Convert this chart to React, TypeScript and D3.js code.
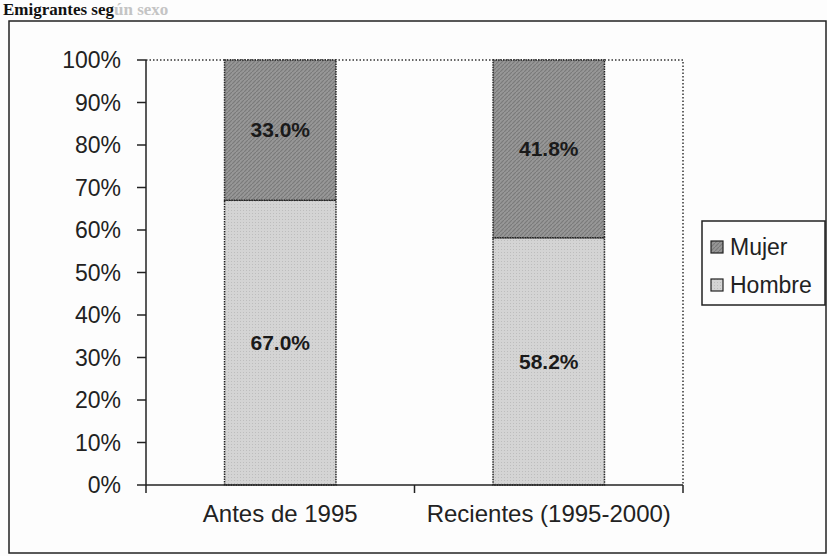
import { useRef, useEffect } from "react";
import * as d3 from "d3";

const categories = ["Antes de 1995", "Recientes (1995-2000)"];
const hombre = [67.0, 58.2];
const mujer = [33.0, 41.8];
const seriesNames = ["Mujer", "Hombre"];
const yTicks = [0, 10, 20, 30, 40, 50, 60, 70, 80, 90, 100];

function App() {
  const svgRef = useRef<SVGSVGElement>(null);

  useEffect(() => {
    document.body.style.margin = "0";
    const svg = d3.select(svgRef.current);
    svg.selectAll("*").remove();

    const width = 827;
    const height = 556;
    const font = "Liberation Sans, Arial, sans-serif";

    svg.attr("width", width).attr("height", height).style("background", "#fdfdfd");

    // patterns for the scanned grey fills
    const defs = svg.append("defs");
    const pm = defs
      .append("pattern")
      .attr("id", "pat-mujer")
      .attr("width", 4)
      .attr("height", 4)
      .attr("patternUnits", "userSpaceOnUse");
    pm.append("rect").attr("width", 4).attr("height", 4).attr("fill", "#979797");
    pm.append("path").attr("d", "M0,4 L4,0").attr("stroke", "#7a7a7a").attr("stroke-width", 1.2);
    const ph = defs
      .append("pattern")
      .attr("id", "pat-hombre")
      .attr("width", 3)
      .attr("height", 3)
      .attr("patternUnits", "userSpaceOnUse");
    ph.append("rect").attr("width", 3).attr("height", 3).attr("fill", "#d4d4d4");
    ph.append("rect").attr("width", 1).attr("height", 1).attr("fill", "#bdbdbd");

    // title at the top of the scan
    const title = svg
      .append("text")
      .attr("x", 3)
      .attr("y", 15)
      .style("font", "bold 17px Liberation Serif, serif");
    title.append("tspan").attr("fill", "#111").text("Emigrantes seg");
    title.append("tspan").attr("fill", "#c4c4c4").text("ún sexo");

    // outer frame
    svg
      .append("rect")
      .attr("x", 9)
      .attr("y", 21)
      .attr("width", 817)
      .attr("height", 532)
      .attr("fill", "none")
      .attr("stroke", "#222")
      .attr("stroke-width", 1.5);

    const x = d3.scaleBand().domain(categories).range([146, 683]).paddingInner(0).paddingOuter(0);
    const y = d3.scaleLinear().domain([0, 100]).range([485, 60]);

    const barW = x.bandwidth() * 0.415;

    // plot area dotted border (top and right)
    svg
      .append("path")
      .attr("d", `M${x.range()[0]},${y(100)}H${x.range()[1]}V${y(0)}`)
      .attr("fill", "none")
      .attr("stroke", "#333")
      .attr("stroke-width", 1.5)
      .attr("stroke-dasharray", "1.5,2");

    const stacks = [
      { name: "Hombre", values: hombre, base: categories.map(() => 0), fill: "url(#pat-hombre)" },
      { name: "Mujer", values: mujer, base: hombre, fill: "url(#pat-mujer)" },
    ];

    stacks.forEach((s) => {
      const g = svg.append("g");
      g.selectAll("rect")
        .data(categories)
        .join("rect")
        .attr("x", (d) => x(d)! + (x.bandwidth() - barW) / 2)
        .attr("width", barW)
        .attr("y", (d, i) => y(s.base[i] + s.values[i]))
        .attr("height", (d, i) => y(s.base[i]) - y(s.base[i] + s.values[i]))
        .attr("fill", s.fill)
        .attr("stroke", "#222")
        .attr("stroke-width", 1.5)
        .attr("stroke-dasharray", "1.5,1");
      g.selectAll("text")
        .data(categories)
        .join("text")
        .attr("x", (d) => x(d)! + x.bandwidth() / 2)
        .attr("y", (d, i) => y(s.base[i] + s.values[i] / 2))
        .attr("dy", "0.35em")
        .attr("text-anchor", "middle")
        .attr("fill", "#1a1a1a")
        .style("font", `bold 21px ${font}`)
        .text((d, i) => `${s.values[i].toFixed(1)}%`);
    });

    // y axis
    const yAxis = svg.append("g").attr("transform", `translate(${x.range()[0]},0)`);
    yAxis
      .append("line")
      .attr("y1", y(0))
      .attr("y2", y(100))
      .attr("stroke", "#222")
      .attr("stroke-width", 1.5);
    yAxis
      .selectAll("line.tick")
      .data(yTicks)
      .join("line")
      .attr("class", "tick")
      .attr("x1", -9)
      .attr("x2", 0)
      .attr("y1", (d) => y(d))
      .attr("y2", (d) => y(d))
      .attr("stroke", "#222")
      .attr("stroke-width", 1.5);
    yAxis
      .selectAll("text")
      .data(yTicks)
      .join("text")
      .attr("x", -25)
      .attr("y", (d) => y(d))
      .attr("dy", "0.36em")
      .attr("text-anchor", "end")
      .attr("fill", "#222")
      .style("font", `23px ${font}`)
      .text((d) => `${d}%`);

    // x axis
    const xAxis = svg.append("g").attr("transform", `translate(0,${y(0)})`);
    xAxis
      .append("line")
      .attr("x1", x.range()[0])
      .attr("x2", x.range()[1])
      .attr("stroke", "#222")
      .attr("stroke-width", 1.5);
    xAxis
      .selectAll("line.tick")
      .data([x.range()[0], x(categories[1])!, x.range()[1]])
      .join("line")
      .attr("class", "tick")
      .attr("x1", (d) => d)
      .attr("x2", (d) => d)
      .attr("y1", 0)
      .attr("y2", 8)
      .attr("stroke", "#222")
      .attr("stroke-width", 1.5);
    xAxis
      .selectAll("text")
      .data(categories)
      .join("text")
      .attr("x", (d) => x(d)! + x.bandwidth() / 2)
      .attr("y", 37)
      .attr("text-anchor", "middle")
      .attr("fill", "#222")
      .style("font", `24px ${font}`)
      .text((d) => d);

    // legend
    const lg = svg.append("g").attr("transform", "translate(702,221)");
    lg.append("rect")
      .attr("width", 123)
      .attr("height", 84)
      .attr("fill", "none")
      .attr("stroke", "#222")
      .attr("stroke-width", 1.5);
    const items = lg
      .selectAll("g")
      .data(seriesNames)
      .join("g")
      .attr("transform", (d, i) => `translate(9,${26 + i * 38})`);
    items
      .append("rect")
      .attr("x", 0)
      .attr("y", -6)
      .attr("width", 12)
      .attr("height", 12)
      .attr("fill", (d) => (d === "Mujer" ? "url(#pat-mujer)" : "url(#pat-hombre)"))
      .attr("stroke", "#222")
      .attr("stroke-width", 1.2);
    items
      .append("text")
      .attr("x", 19)
      .attr("dy", "0.36em")
      .attr("fill", "#222")
      .style("font", `23px ${font}`)
      .text((d) => d);
  }, []);

  return <svg ref={svgRef}></svg>;
}

export default App;
